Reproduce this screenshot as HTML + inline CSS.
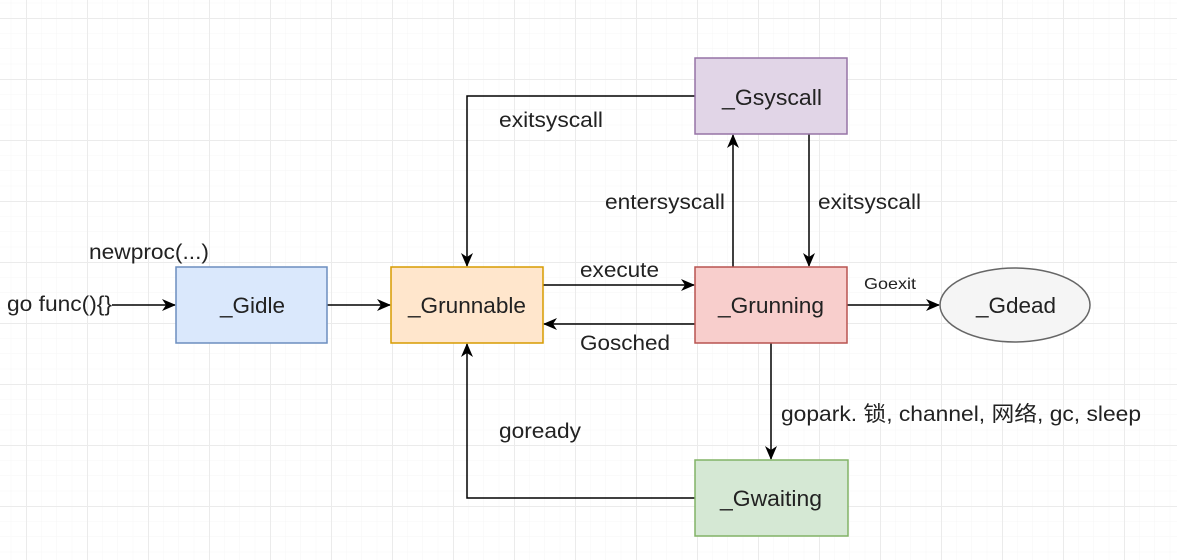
<!DOCTYPE html>
<html><head><meta charset="utf-8">
<style>
html,body{margin:0;padding:0;background:#fff;}
svg{display:block;}
text{font-family:"Liberation Sans","Noto Sans CJK SC",sans-serif;fill:#222;}
</style></head>
<body>
<svg width="1177" height="560" viewBox="0 0 1177 560" xmlns="http://www.w3.org/2000/svg">
<defs>
<pattern id="minor" width="15.25" height="15.25" patternUnits="userSpaceOnUse" x="26" y="18">
<path d="M0 0H15.25M0 0V15.25" stroke="#f6f6f6" stroke-width="1" fill="none"/>
</pattern>
<pattern id="major" width="61" height="61" patternUnits="userSpaceOnUse" x="26" y="18">
<path d="M0 0.5H61M0.5 0V61" stroke="#ebebeb" stroke-width="1" fill="none"/>
</pattern>
<marker id="ah" markerWidth="14" markerHeight="12" refX="13" refY="6" orient="auto" markerUnits="userSpaceOnUse">
<path d="M0,0 L14,6 L0,12 L4,6 Z" fill="#000"/>
</marker>
</defs>
<rect width="1177" height="560" fill="#fff"/>
<rect width="1177" height="560" fill="url(#minor)"/>
<rect width="1177" height="560" fill="url(#major)"/>

<g stroke="#000" stroke-width="1.5" fill="none" marker-end="url(#ah)">
<path d="M112 305H175"/>
<path d="M327 305H390"/>
<path d="M543 285H694"/>
<path d="M695 324H544"/>
<path d="M847 305H939"/>
<path d="M733 267V135"/>
<path d="M809 134V266"/>
<path d="M696 96H467V266"/>
<path d="M771 343V459"/>
<path d="M696 498H467V344"/>
</g>

<rect x="176" y="267" width="151" height="76" fill="#dae8fc" stroke="#6c8ebf" stroke-width="1.5"/>
<rect x="391" y="267" width="152" height="76" fill="#ffe6cc" stroke="#d79b00" stroke-width="1.5"/>
<rect x="695" y="267" width="152" height="76" fill="#f8cecc" stroke="#b85450" stroke-width="1.5"/>
<rect x="695" y="58" width="152" height="76" fill="#e1d5e7" stroke="#9673a6" stroke-width="1.5"/>
<rect x="695" y="460" width="153" height="76" fill="#d5e8d4" stroke="#82b366" stroke-width="1.5"/>
<ellipse cx="1015" cy="305" rx="75" ry="37" fill="#f5f5f5" stroke="#666" stroke-width="1.5"/>

<g font-size="22">
<text x="220" y="313" textLength="65" lengthAdjust="spacingAndGlyphs">_Gidle</text>
<text x="408" y="313" textLength="118" lengthAdjust="spacingAndGlyphs">_Grunnable</text>
<text x="718" y="313" textLength="106" lengthAdjust="spacingAndGlyphs">_Grunning</text>
<text x="722" y="105" textLength="100" lengthAdjust="spacingAndGlyphs">_Gsyscall</text>
<text x="720" y="506" textLength="102" lengthAdjust="spacingAndGlyphs">_Gwaiting</text>
<text x="976" y="313" textLength="80" lengthAdjust="spacingAndGlyphs">_Gdead</text>
</g>
<g font-size="21">
<text x="89" y="259" textLength="120" lengthAdjust="spacingAndGlyphs">newproc(...)</text>
<text x="7" y="311" textLength="105" lengthAdjust="spacingAndGlyphs">go func(){}</text>
<text x="580" y="277" textLength="79" lengthAdjust="spacingAndGlyphs">execute</text>
<text x="580" y="350" textLength="90" lengthAdjust="spacingAndGlyphs">Gosched</text>
<text x="499" y="127" textLength="104" lengthAdjust="spacingAndGlyphs">exitsyscall</text>
<text x="605" y="209" textLength="120" lengthAdjust="spacingAndGlyphs">entersyscall</text>
<text x="818" y="209" textLength="103" lengthAdjust="spacingAndGlyphs">exitsyscall</text>
<text x="499" y="438" textLength="82" lengthAdjust="spacingAndGlyphs">goready</text>
<text x="781" y="421" textLength="360" lengthAdjust="spacingAndGlyphs">gopark. 锁, channel, 网络, gc, sleep</text>
</g>
<text x="864" y="289" font-size="16" textLength="52" lengthAdjust="spacingAndGlyphs">Goexit</text>
</svg>
</body></html>
